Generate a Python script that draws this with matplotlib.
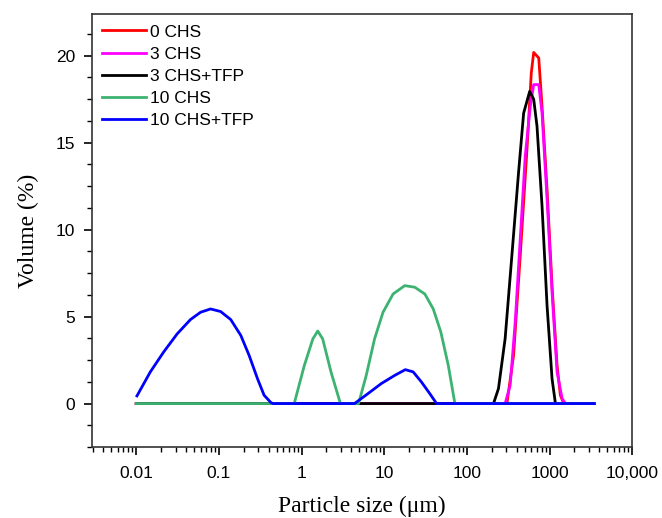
import matplotlib
matplotlib.use("Agg")
import matplotlib.pyplot as plt
from matplotlib.ticker import FixedLocator, LogLocator, NullFormatter, MultipleLocator

# ---- data ----
x_0chs = [0.01, 305, 367, 442, 533, 601, 643, 740, 811, 933, 1072, 1233, 1352, 1486, 3470]
y_0chs = [0, 0, 2.77, 8.50, 14.6, 19.0, 20.19, 19.87, 17.1, 12.3, 6.78, 2.19, 0.48, 0, 0]

x_3chs = [0.01, 290, 334, 384, 442, 508, 585, 643, 740, 811, 933, 1072, 1233, 1419, 1556, 3470]
y_3chs = [0, 0, 1.05, 4.68, 9.46, 14.24, 17.1, 18.34, 18.34, 16.7, 11.75, 6.40, 1.81, 0.29, 0, 0]

x_3tfp = [0.01, 210, 241, 290, 350, 422, 486, 575, 643, 705, 811, 933, 1072, 1178, 3470]
y_3tfp = [0, 0, 0.86, 3.72, 8.50, 13.3, 16.7, 17.95, 17.5, 15.95, 11.37, 5.63, 1.43, 0, 0]

x_10chs = [0.01, 0.815, 1.08, 1.37, 1.57, 1.80, 2.27, 2.95, 4.89, 6.06, 7.64,
           9.67, 12.8, 17.7, 23.4, 31.0, 39.2, 48.4, 59.6, 71.6, 3470]
y_10chs = [0, 0, 2.19, 3.72, 4.17, 3.72, 1.82, 0, 0, 1.62, 3.72,
           5.25, 6.30, 6.78, 6.69, 6.30, 5.44, 4.11, 2.19, 0, 0]

x_10tfp = [0.0102, 0.0148, 0.0215, 0.0313, 0.0453, 0.060, 0.0793, 0.105, 0.139,
           0.184, 0.232, 0.293, 0.352, 0.425, 0.45, 4.37, 6.35, 9.22, 13.4, 18.0,
           22.4, 28.2, 35.6, 43.0, 3470]
y_10tfp = [0.44, 1.82, 2.97, 4.01, 4.83, 5.25, 5.44, 5.29, 4.83,
           3.92, 2.77, 1.43, 0.48, 0.06, 0, 0, 0.57, 1.15, 1.62, 1.95,
           1.82, 1.24, 0.57, 0, 0]

labels = ["0 CHS", "3 CHS", "3 CHS+TFP", "10 CHS", "10 CHS+TFP"]
colors = ["#ff0000", "#ff00ff", "#000000", "#3cb371", "#0000ff"]
xticks = [0.01, 0.1, 1, 10, 100, 1000, 10000]
xticklabels = ["0.01", "0.1", "1", "10", "100", "1000", "10,000"]
yticks = [0, 5, 10, 15, 20]

series = [(x_0chs, y_0chs), (x_3chs, y_3chs), (x_3tfp, y_3tfp),
          (x_10chs, y_10chs), (x_10tfp, y_10tfp)]

fig = plt.figure(figsize=(6.62, 5.18), dpi=100)
ax = fig.add_axes([0.139, 0.137, 0.816, 0.836])

for (xs, ys), lab, c in zip(series, labels, colors):
    ax.plot(xs, ys, color=c, lw=2.0, label=lab, solid_joinstyle="round")

ax.set_xscale("log")
ax.set_xlim(10 ** -2.535, 10000)
ax.set_ylim(-2.5, 22.4)

ax.xaxis.set_major_locator(FixedLocator(xticks))
ax.set_xticklabels(xticklabels, fontfamily="Liberation Sans", fontsize=12.5)
ax.xaxis.set_minor_locator(LogLocator(base=10, subs=range(2, 10), numticks=20))
ax.xaxis.set_minor_formatter(NullFormatter())
ax.yaxis.set_major_locator(FixedLocator(yticks))
ax.yaxis.set_minor_locator(MultipleLocator(1.25))
for lab in ax.get_yticklabels():
    lab.set_fontfamily("Liberation Sans")
    lab.set_fontsize(12.5)

ax.tick_params(axis="x", which="major", direction="out", length=6, width=1.2, pad=8)
ax.tick_params(axis="y", which="major", direction="out", length=6, width=1.2, pad=6)
ax.tick_params(which="minor", direction="out", length=3.5, width=1.0)
ax.tick_params(top=False, right=False, which="both")
for s in ax.spines.values():
    s.set_linewidth(1.2)
    s.set_color("#333333")

ax.set_xlabel("Particle size (μm)", fontfamily="Liberation Serif", fontsize=17, labelpad=10)
ax.set_ylabel("Volume (%)", fontfamily="Liberation Serif", fontsize=17, labelpad=12)

leg = ax.legend(loc="upper left", frameon=False, prop={"family": "Liberation Sans", "size": 12.5},
                handlelength=2.5, handletextpad=0.25, labelspacing=0.4,
                borderaxespad=0.2, bbox_to_anchor=(0.0, 1.0))

fig.savefig("out.png", dpi=100)
